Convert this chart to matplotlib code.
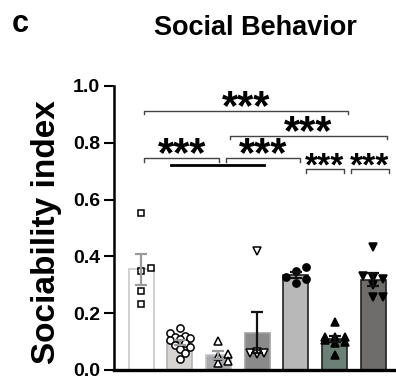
import numpy as np
import matplotlib
matplotlib.use("Agg")
import matplotlib.pyplot as plt

plt.rcParams['font.family'] = ['Liberation Sans', 'DejaVu Sans']
plt.rcParams['font.weight'] = 'bold'

# individual animals per group (sociability index)
g1 = [0.553, 0.360, 0.349, 0.278, 0.232]
g2 = [0.149, 0.129, 0.121, 0.117, 0.112, 0.108, 0.105, 0.096, 0.088, 0.080, 0.073, 0.059, 0.038]
g3 = [0.102, 0.056, 0.050, 0.032, 0.025]
g4 = [0.420, 0.062, 0.060, 0.060, 0.058]
g5 = [0.363, 0.350, 0.327, 0.320, 0.306]
g6 = [0.170, 0.117, 0.117, 0.115, 0.105, 0.100, 0.095, 0.052]
g7 = [0.433, 0.330, 0.325, 0.320, 0.300, 0.257, 0.257]
groups = [g1, g2, g3, g4, g5, g6, g7]

bar_colors = ['#ffffff', '#d7d4d4', '#a9a9ae', '#8a8a8a', '#b8b8b8', '#6b8077', '#6e6d6c']
edge_colors = ['#c8c8c8', '#b4b4b4', '#c4c4c4', '#a2a2a2', '#222222', '#222222', '#222222']
err_colors = ['#9a9a9a', '#9a9a9a', '#9a9a9a', '#111111', '#111111', '#111111', '#111111']
markers = ['s', 'o', '^', 'v', 'o', '^', 'v']
filled = [False, False, False, False, True, True, True]
jitter_step = [10, 5, 10, 7, 10, 10, 10]   # px between neighbouring points

# significance brackets: (x start, x end, y, label, small)
brackets = [
    (0.08, 5.34, 0.913, '***', False),
    (2.30, 6.35, 0.824, '***', False),
    (0.08, 2.02, 0.746, '***', False),
    (2.19, 4.10, 0.746, '***', False),
    (4.26, 5.25, 0.707, '***', True),
    (5.42, 6.40, 0.707, '***', True),
]


def swarm_x(ax, x0, vals, step, max_off=11.0, min_dist=6.0):
    # rough GraphPad-like scatter: spread points that sit at similar heights
    inv = ax.transData.inverted()
    placed = []
    out = {}
    order = np.argsort(vals)
    for idx in order:
        px, py = ax.transData.transform((x0, vals[idx]))
        cands = [0.0]
        k = 1
        while k * step <= max_off:
            cands += [k * step, -k * step]
            k += 1
        best, best_d = 0.0, -1
        for c in cands:
            d = min([np.hypot(px + c - qx, py - qy) for qx, qy in placed] + [1e9])
            if d >= min_dist:
                best = c
                break
            if d > best_d:
                best, best_d = c, d
        placed.append((px + best, py))
        out[idx] = inv.transform((px + best, py))[0]
    return [out[i] for i in range(len(vals))]


fig = plt.figure(figsize=(3.96, 3.81), dpi=100)
ax = fig.add_axes([0.288, 0.0289, 0.712, 0.7454])
ax.set_xlim(-0.70, 6.59)
ax.set_ylim(0, 1.0)

x = np.arange(len(groups))
means = [np.mean(g) for g in groups]
sems = [np.std(g, ddof=1) / np.sqrt(len(g)) for g in groups]

ax.bar(x, means, width=0.65, color=bar_colors, edgecolor=edge_colors, linewidth=1.2, zorder=2)

for i, g in enumerate(groups):
    xs = swarm_x(ax, x[i], g, jitter_step[i])
    ax.plot(xs, g, linestyle='none', marker=markers[i], markersize=5.2 if markers[i] != 's' else 4.6,
            markerfacecolor='black' if filled[i] else 'white', markeredgecolor='black',
            markeredgewidth=1.1, zorder=3, clip_on=False)
    ax.errorbar(x[i], means[i], yerr=sems[i], fmt='none', ecolor=err_colors[i],
                elinewidth=1.6, capsize=4.5, capthick=1.6, zorder=4)

for x1, x2, y, lab, small in brackets:
    ax.plot([x1, x1, x2, x2], [y - 0.012, y, y, y - 0.012], color='#444444', lw=1.0,
            clip_on=False, zorder=5)
    ax.text((x1 + x2) / 2, y - (0.046 if small else 0.061), lab, ha='center', va='bottom',
            fontsize=24 if small else 30, fontweight='bold', clip_on=False)

# line linking the two left comparisons
ax.plot([0.78, 3.18], [0.723, 0.723], color='black', lw=2.0, clip_on=False, zorder=5)

ax.spines['top'].set_visible(False)
ax.spines['right'].set_visible(False)
ax.spines['left'].set_linewidth(1.8)
ax.spines['bottom'].set_linewidth(2.4)
ax.set_xticks([])
ax.set_yticks([0, 0.2, 0.4, 0.6, 0.8, 1.0])
ax.set_yticklabels(['0.0', '0.2', '0.4', '0.6', '0.8', '1.0'])
ax.tick_params(axis='y', length=7, width=1.5, pad=3, labelsize=14)
for t in ax.get_yticklabels():
    t.set_fontweight('bold')

fig.text(0.078, 0.392, 'Sociability index', rotation=90, ha='left', va='center',
         fontsize=24, fontweight='bold')
fig.text(0.646, 0.908, 'Social Behavior', ha='center', va='baseline', fontsize=19.5,
         fontweight='bold')
fig.text(0.03, 0.916, 'c', ha='left', va='baseline', fontsize=22, fontweight='bold')

fig.savefig('out.png', dpi=100)
